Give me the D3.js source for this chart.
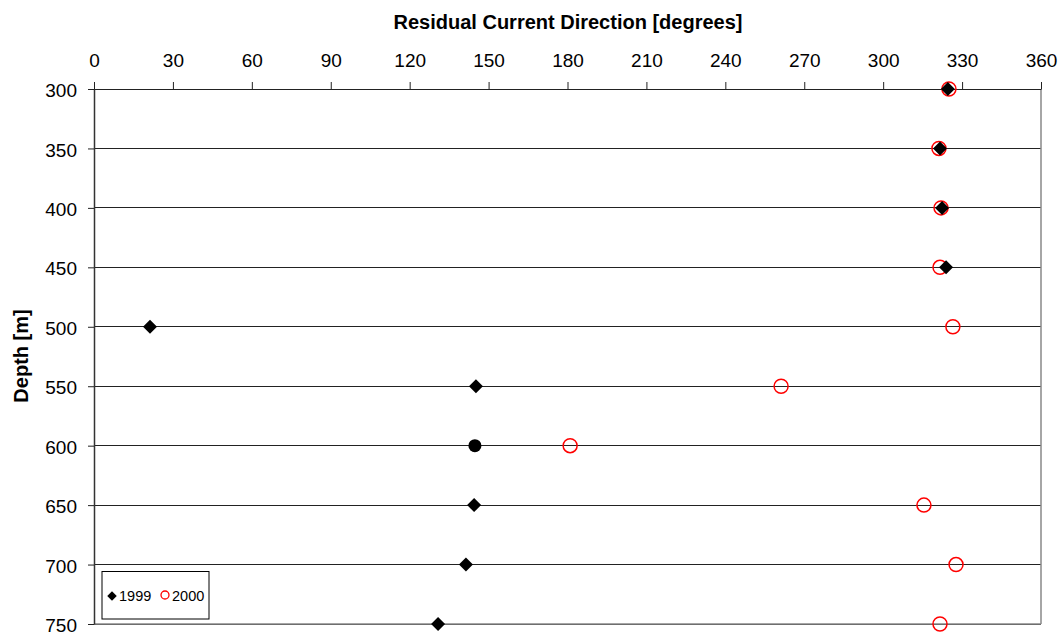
<!DOCTYPE html>
<html><head><meta charset="utf-8">
<script src="https://cdn.jsdelivr.net/npm/d3@7"></script>
<style>body{margin:0;background:#fff;} svg{display:block;font-family:"Liberation Sans",Arial,sans-serif;}</style>
</head><body>
<script>
const depths = [300, 350, 400, 450, 500, 550, 600, 650, 700, 750];
const dir1999 = [324.6, 321.6, 322.4, 323.9, 21.3, 145.2, 144.8, 144.5, 141.4, 130.8];
const shape1999 = ["diamond","diamond","diamond","diamond","diamond","diamond","circle","diamond","diamond","diamond"];
const dir2000 = [325.0, 321.2, 322.0, 321.6, 326.5, 261.2, 181.0, 315.5, 327.7, 321.6];
const xTicks = [0, 30, 60, 90, 120, 150, 180, 210, 240, 270, 300, 330, 360];
const yTicks = [300, 350, 400, 450, 500, 550, 600, 650, 700, 750];
const seriesNames = ["1999", "2000"];

const W = 1061, H = 635;
const L = 94, R = 1041, T = 89, B = 624;
const FONT = '"Liberation Sans",Arial,sans-serif';
const svg = d3.select("body").append("svg").attr("width", W).attr("height", H);

const x = d3.scaleLinear().domain([0, 360]).range([L, R]);
const y = d3.scaleLinear().domain([300, 750]).range([T, B]);

// gridlines
svg.append("g").selectAll("line").data(yTicks).join("line")
  .attr("x1", L).attr("x2", R).attr("y1", d => y(d)).attr("y2", d => y(d))
  .attr("stroke", "#222").attr("stroke-width", 1).attr("shape-rendering","crispEdges");

// frame right and bottom
svg.append("line").attr("x1", R).attr("x2", R).attr("y1", T).attr("y2", B)
  .attr("stroke", "#888").attr("stroke-width", 1.5);
svg.append("line").attr("x1", L).attr("x2", R).attr("y1", B).attr("y2", B)
  .attr("stroke", "#888").attr("stroke-width", 1.5);

// top axis
const xa = svg.append("g").attr("transform", `translate(0,${T})`)
  .call(d3.axisTop(x).tickValues(xTicks).tickSize(7).tickPadding(15).tickSizeOuter(0));
xa.select(".domain").attr("stroke", "#222");
xa.selectAll(".tick line").attr("stroke", "#222");
xa.selectAll("text").attr("font-size", 19).attr("fill", "#000").attr("font-family", FONT);

// left axis
const ya = svg.append("g").attr("transform", `translate(${L},0)`)
  .call(d3.axisLeft(y).tickValues(yTicks).tickSize(6).tickPadding(11).tickSizeOuter(0));
ya.select(".domain").attr("stroke", "#333").attr("stroke-width", 1.5);
ya.selectAll(".tick line").attr("stroke", "#222");
ya.selectAll("text").attr("font-size", 19).attr("fill", "#000").attr("font-family", FONT)
  .attr("dy", "0.4em");

// titles
svg.append("text").attr("x", 568).attr("y", 29).attr("text-anchor", "middle")
  .attr("font-size", 20).attr("font-weight", "bold").text("Residual Current Direction [degrees]");
svg.append("text").attr("transform", `translate(28,356) rotate(-90)`).attr("text-anchor", "middle")
  .attr("font-size", 20).attr("font-weight", "bold").text("Depth [m]");

// 2000 series: open red circles
svg.append("g").selectAll("circle").data(depths.map((d, i) => ({d, v: dir2000[i]}))).join("circle")
  .attr("cx", p => x(p.v)).attr("cy", p => y(p.d)).attr("r", 7)
  .attr("fill", "none").attr("stroke", "#ff0000").attr("stroke-width", 1.5);

// 1999 series: black diamonds
const diamond = d3.symbol().type(d3.symbolSquare).size(98);
const g99 = svg.append("g");
depths.forEach((d, i) => {
  if (shape1999[i] === "circle") {
    g99.append("circle").attr("cx", x(dir1999[i])).attr("cy", y(d)).attr("r", 6.5).attr("fill", "#000");
  } else {
    g99.append("path").attr("d", diamond)
      .attr("transform", `translate(${x(dir1999[i])},${y(d)}) rotate(45)`).attr("fill", "#000");
  }
});

// legend
const lg = svg.append("g");
lg.append("rect").attr("x", 102).attr("y", 571.5).attr("width", 107).attr("height", 47.5)
  .attr("fill", "#fff").attr("stroke", "#000").attr("stroke-width", 1);
lg.append("path").attr("d", d3.symbol().type(d3.symbolSquare).size(45))
  .attr("transform", "translate(112,596) rotate(45)").attr("fill", "#000");
lg.append("text").attr("x", 119).attr("y", 601).attr("font-size", 14.5).text(seriesNames[0]);
lg.append("circle").attr("cx", 165).attr("cy", 595).attr("r", 4)
  .attr("fill", "none").attr("stroke", "#ff0000").attr("stroke-width", 1.3);
lg.append("text").attr("x", 172).attr("y", 601).attr("font-size", 14.5).text(seriesNames[1]);
</script>
</body></html>
